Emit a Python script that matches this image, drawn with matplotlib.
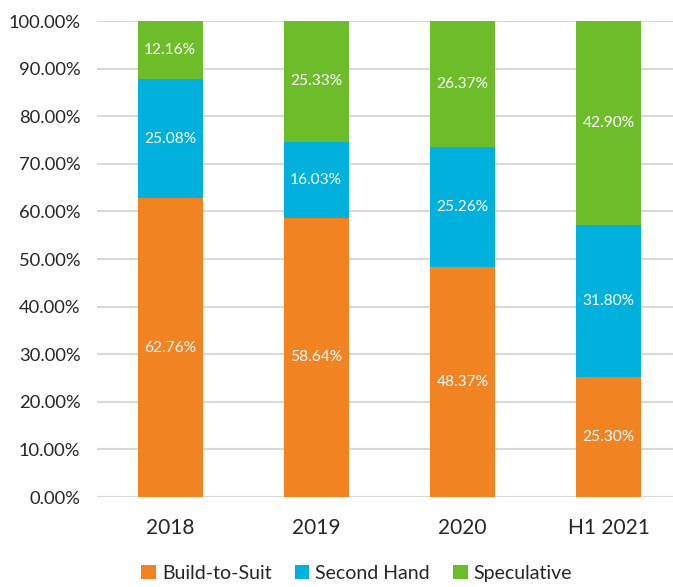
import numpy as np
import matplotlib.pyplot as plt

categories = ['2018', '2019', '2020', 'H1 2021']
build_to_suit = [62.76, 58.64, 48.37, 25.30]
second_hand = [25.08, 16.03, 25.26, 31.80]
speculative = [12.16, 25.33, 26.37, 42.90]

series = [
    ('Build-to-Suit', build_to_suit, '#F28323'),
    ('Second Hand', second_hand, '#00B1DE'),
    ('Speculative', speculative, '#6DBD2B'),
]

plt.rcParams['font.family'] = ['Lato', 'DejaVu Sans']

fig = plt.figure(figsize=(6.73, 5.87), dpi=100)
ax = fig.add_axes([97 / 673, 90 / 587, 576 / 673, 476 / 587])

x = np.arange(len(categories))
bottom = np.zeros(len(categories))
for name, vals, color in series:
    vals = np.array(vals)
    ax.bar(x, vals, 0.445, bottom=bottom, color=color, label=name, zorder=3)
    for xi, b, v in zip(x, bottom, vals):
        ax.text(xi, b + v / 2, f'{v:.2f}%', ha='center', va='center',
                color='white', fontsize=11.2, zorder=4)
    bottom += vals

ax.set_ylim(0, 100)
ax.set_xlim(-0.5, 3.44)
ax.set_yticks(np.arange(0, 101, 10))
ax.set_yticklabels([f'{t:.2f}%' for t in np.arange(0, 101, 10)], fontsize=13.2, color='#262626')
ax.set_xticks(x)
ax.set_xticklabels(categories, fontsize=15, color='#262626')
ax.tick_params(axis='both', length=0)
ax.tick_params(axis='y', pad=12)
ax.tick_params(axis='x', pad=15)
ax.grid(axis='y', color='#D9D9D9', linewidth=1.5, zorder=0)
for s in ax.spines.values():
    s.set_visible(False)

ax.legend(loc='lower center', bbox_to_anchor=(0.451, -0.215), ncol=3, frameon=False,
          fontsize=14, handlelength=0.75, handleheight=0.75, handletextpad=0.3,
          columnspacing=1.2, labelcolor='#262626')

fig.savefig('out.png', dpi=100)
